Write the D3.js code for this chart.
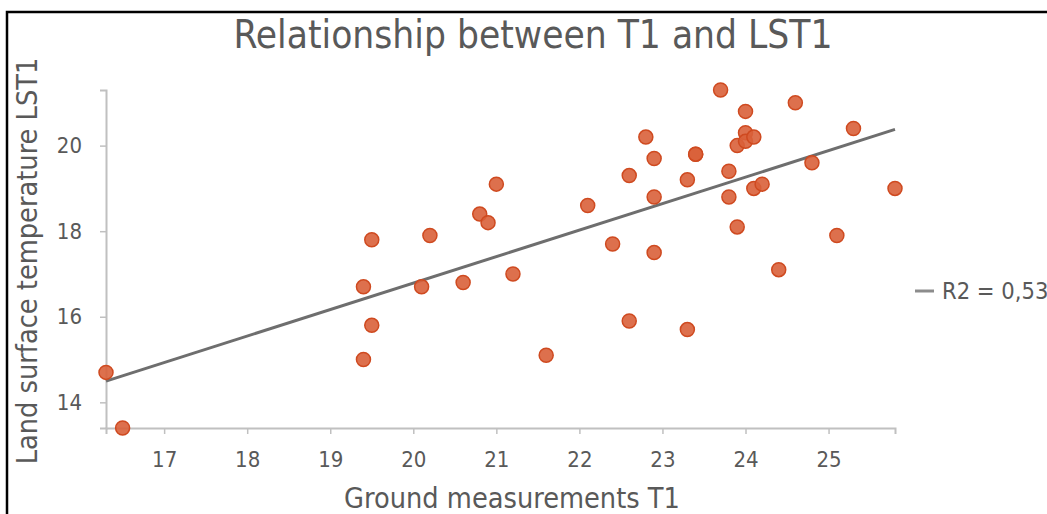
<!DOCTYPE html>
<html>
<head>
<meta charset="utf-8">
<script src="https://cdn.jsdelivr.net/npm/d3@7"></script>
<style>
  html, body { margin: 0; padding: 0; background: #fff; }
  svg { display: block; }
  text { font-family: "DejaVu Sans Condensed", "DejaVu Sans", sans-serif; fill: #595959; }
</style>
</head>
<body>
<svg id="chart" width="1047" height="514"></svg>
<script>
// ---- data ----
const groundT1 = [16.3, 16.5, 19.4, 19.5, 19.5, 19.4, 20.1, 20.2, 20.6, 20.8, 20.9, 21.0, 21.2, 21.6,
  22.1, 22.4, 22.6, 22.6, 22.8, 22.9, 22.9, 22.9, 23.3, 23.3, 23.4, 23.4, 23.7, 23.8, 23.8, 23.9, 23.9,
  24.0, 24.0, 24.0, 24.1, 24.1, 24.2, 24.4, 24.6, 24.8, 25.1, 25.3, 25.8];
const lst1 = [14.7, 13.4, 16.7, 17.8, 15.8, 15.0, 16.7, 17.9, 16.8, 18.4, 18.2, 19.1, 17.0, 15.1,
  18.6, 17.7, 15.9, 19.3, 20.2, 19.7, 18.8, 17.5, 15.7, 19.2, 19.8, 19.8, 21.3, 19.4, 18.8, 20.0, 18.1,
  20.8, 20.3, 20.1, 20.2, 19.0, 19.1, 17.1, 21.0, 19.6, 17.9, 20.4, 19.0];
const xTicks = [17, 18, 19, 20, 21, 22, 23, 24, 25];
const yTicks = [14, 16, 18, 20];
const xDomain = [16.3, 25.8];
const yDomain = [13.4, 21.3];
const titleText = "Relationship between T1 and LST1";
const xTitle = "Ground measurements T1";
const yTitle = "Land surface temperature LST1";
const legendText = "R2 = 0,53";

// ---- chart ----
const svg = d3.select("#chart");
const x = d3.scaleLinear().domain(xDomain).range([106, 895]);
const y = d3.scaleLinear().domain(yDomain).range([428, 90]);

// outer frame (top + left visible)
svg.append("path").attr("d", "M7,514V12H1047").attr("fill", "none")
  .attr("stroke", "#000").attr("stroke-width", 2.5);

// title
svg.append("text").attr("x", 533).attr("y", 48).attr("text-anchor", "middle")
  .attr("font-size", 38.5).text(titleText);

// axes
const xAxis = svg.append("g").attr("transform", "translate(0,428)")
  .call(d3.axisBottom(x).tickValues(xTicks).tickSize(6).tickPadding(17).tickFormat(d3.format("d")));
const yAxis = svg.append("g").attr("transform", "translate(106,0)")
  .call(d3.axisLeft(y).tickValues(yTicks).tickSize(6).tickPadding(18).tickFormat(d3.format("d")));
[xAxis, yAxis].forEach(g => {
  g.select(".domain").attr("stroke", "#c0c0c0").attr("stroke-width", 2);
  g.selectAll(".tick line").attr("stroke", "#c0c0c0").attr("stroke-width", 1.5);
  g.selectAll(".tick text").attr("font-size", 22).attr("fill", "#595959")
    .style("font-family", '"DejaVu Sans Condensed", "DejaVu Sans", sans-serif');
});

// axis titles
svg.append("text").attr("x", 512).attr("y", 508).attr("text-anchor", "middle")
  .attr("font-size", 28.6).text(xTitle);
svg.append("text").attr("transform", "translate(37,261) rotate(-90)").attr("text-anchor", "middle")
  .attr("font-size", 28.6).text(yTitle);

// linear trend (least squares on the data)
const n = groundT1.length;
const mx = d3.mean(groundT1), my = d3.mean(lst1);
let sxy = 0, sxx = 0;
for (let i = 0; i < n; i++) { sxy += (groundT1[i]-mx)*(lst1[i]-my); sxx += (groundT1[i]-mx)**2; }
const slope = sxy / sxx, intercept = my - slope * mx;
svg.append("line")
  .attr("x1", x(xDomain[0])).attr("y1", y(intercept + slope * xDomain[0]))
  .attr("x2", x(xDomain[1])).attr("y2", y(intercept + slope * xDomain[1]))
  .attr("stroke", "#6e6e6e").attr("stroke-width", 3);

// points
svg.append("g").selectAll("circle").data(groundT1.map((v, i) => [v, lst1[i]])).join("circle")
  .attr("cx", d => x(d[0])).attr("cy", d => y(d[1])).attr("r", 7)
  .attr("fill", "#d9603a").attr("fill-opacity", 0.9)
  .attr("stroke", "#cf4a20").attr("stroke-width", 1.5);

// legend
svg.append("line").attr("x1", 915).attr("x2", 934).attr("y1", 291).attr("y2", 291)
  .attr("stroke", "#8c8c8c").attr("stroke-width", 3);
svg.append("text").attr("x", 942).attr("y", 299).attr("font-size", 23.5).text(legendText);
</script>
</body>
</html>
